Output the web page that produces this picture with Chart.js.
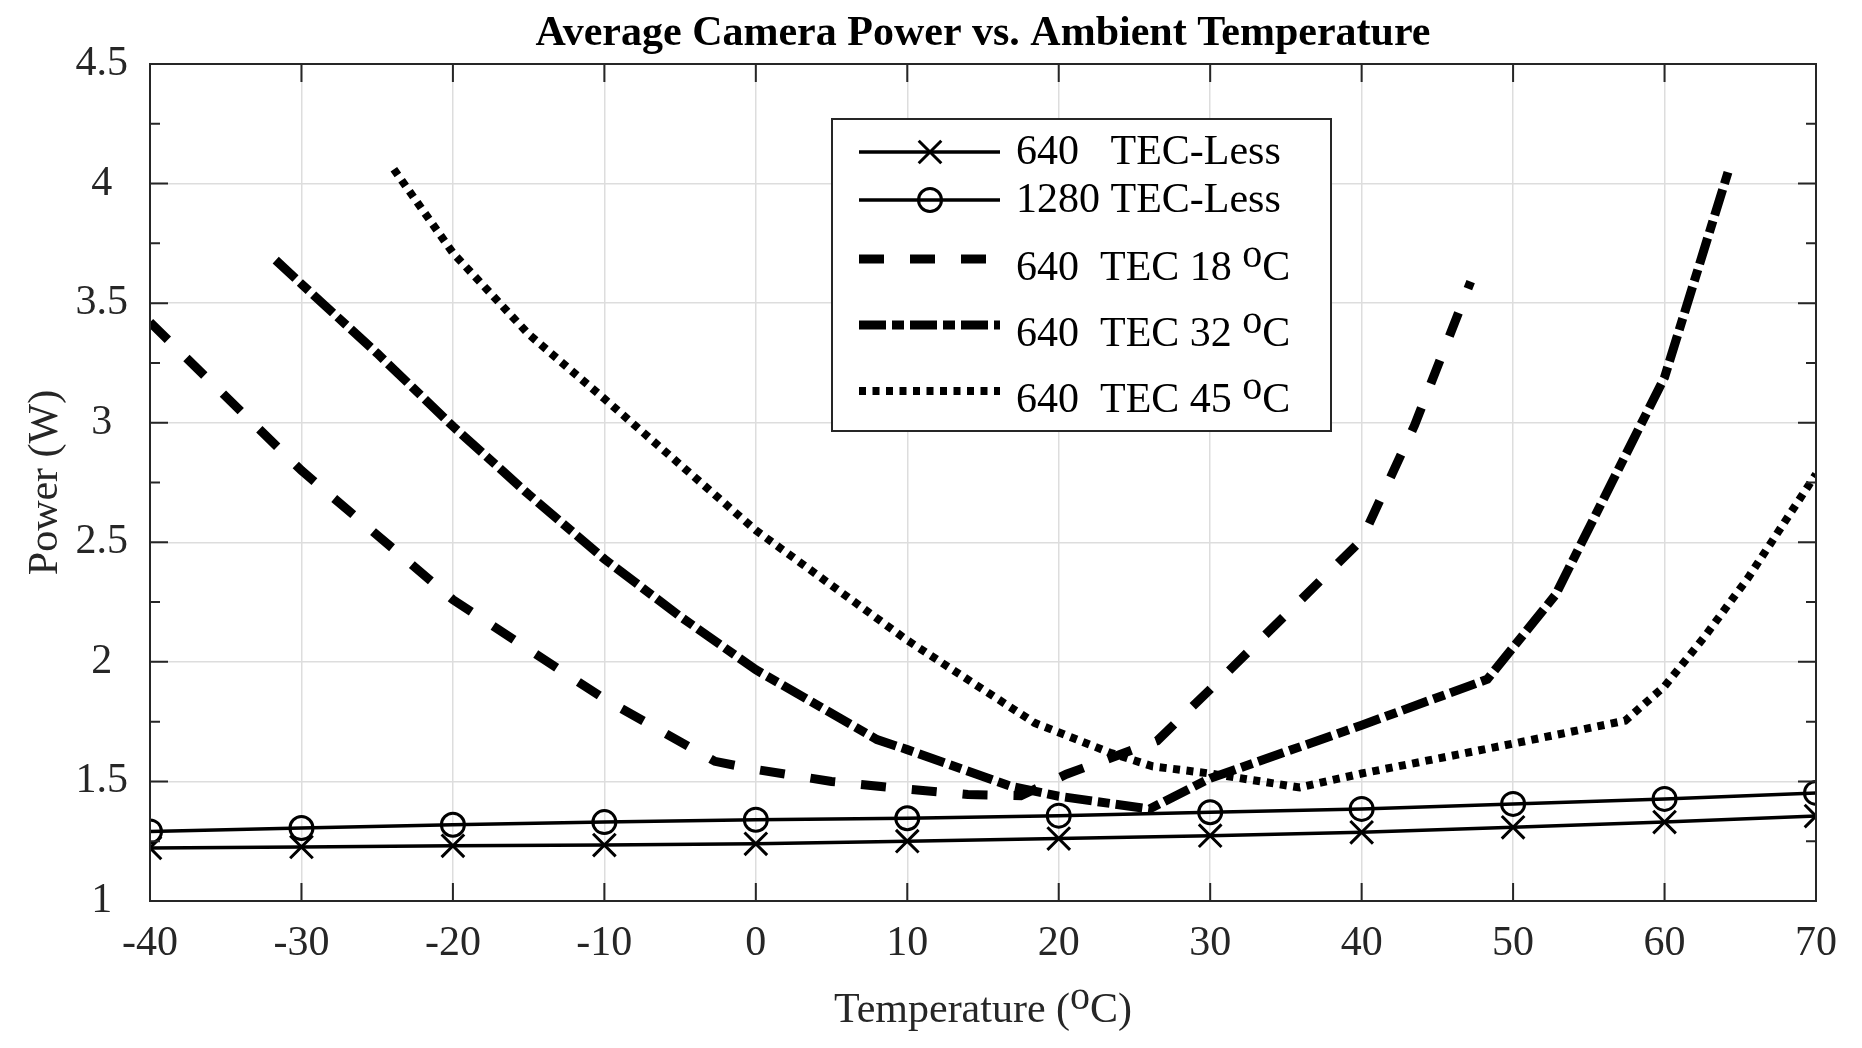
<!DOCTYPE html>
<html>
<head>
<meta charset="utf-8">
<title>Average Camera Power vs. Ambient Temperature</title>
<script src="https://cdn.jsdelivr.net/npm/chart.js@4.4.1/dist/chart.umd.min.js"></script>
<style>
  html, body { margin: 0; padding: 0; background: #fff; }
  canvas { display: block; }
</style>
</head>
<body>
<canvas id="powerChart" width="1862" height="1048"></canvas>
<script>
// TEC-less cameras, measured every 10 °C
const temps = [-40, -30, -20, -10, 0, 10, 20, 30, 40, 50, 60, 70];
const power640Less = [1.222, 1.226, 1.231, 1.234, 1.239, 1.250, 1.261, 1.273, 1.287, 1.308, 1.330, 1.355];
const power1280Less = [1.291, 1.305, 1.319, 1.330, 1.340, 1.346, 1.357, 1.371, 1.385, 1.406, 1.427, 1.452];

// TEC curves (at the bends)
const tec18Temps = [-40, -30, -20, -10, -2.7, 0, 5, 10, 14, 17.5, 20.5, 26.5, 30, 40, 43.5, 47.2];
const tec18Power = [3.42, 2.80, 2.26, 1.845, 1.584, 1.55, 1.50, 1.468, 1.445, 1.44, 1.53, 1.67, 1.885, 2.51, 2.99, 3.59];

const tec32Temps = [-31.7, -30, -25, -20, -15, -10, -5, 0, 8, 10, 16.8, 20, 26, 30, 40, 48.3, 52.8, 60, 64.3];
const tec32Power = [3.68, 3.58, 3.29, 2.985, 2.70, 2.43, 2.19, 1.967, 1.675, 1.633, 1.48, 1.438, 1.385, 1.513, 1.735, 1.927, 2.28, 3.19, 4.07];

const tec45Temps = [-23.9, -20, -15, -10, -5, 0, 10, 18.4, 23.4, 26.2, 30, 35.9, 40, 50, 57.4, 60, 62.7, 65.5, 70];
const tec45Power = [4.06, 3.71, 3.37, 3.10, 2.825, 2.55, 2.09, 1.745, 1.62, 1.563, 1.533, 1.475, 1.533, 1.658, 1.754, 1.898, 2.11, 2.35, 2.785];

const xTicks = [-40, -30, -20, -10, 0, 10, 20, 30, 40, 50, 60, 70];
const yTicks = [1, 1.5, 2, 2.5, 3, 3.5, 4, 4.5];
const seriesLabels = ['640   TEC-Less', '1280 TEC-Less', '640  TEC 18 °C', '640  TEC 32 °C', '640  TEC 45 °C'];

const FONT = '"Liberation Serif", "Times New Roman", serif';
const FS = 42;
const axisColor = '#262626';

function pts(xs, ys) {
    return xs.map((x, i) => ({ x: x, y: ys[i] }));
}

// draws text where '°' becomes a raised "o" (like the MATLAB ^o)
function drawSupText(ctx, text, x, y, size, align) {
    const parts = text.split('°');
    const mainFont = size + 'px ' + FONT;
    const supFont = Math.round(size * 0.95) + 'px ' + FONT;
    ctx.font = mainFont;
    let total = ctx.measureText(parts[0]).width;
    let supW = 0;
    if (parts.length > 1) {
        ctx.font = supFont;
        supW = ctx.measureText('o').width;
        ctx.font = mainFont;
        total += supW + ctx.measureText(parts[1]).width;
    }
    let cx = align === 'center' ? x - total / 2 : x;
    ctx.textAlign = 'left';
    ctx.textBaseline = 'alphabetic';
    ctx.font = mainFont;
    ctx.fillText(parts[0], cx, y);
    if (parts.length > 1) {
        cx += ctx.measureText(parts[0]).width;
        ctx.font = supFont;
        ctx.fillText('o', cx, y - Math.round(size * 0.32));
        cx += supW;
        ctx.font = mainFont;
        ctx.fillText(parts[1], cx, y);
    }
}

const framePlugin = {
    id: 'frame',
    afterDraw(chart) {
        const { ctx, chartArea: a, scales } = chart;
        const sx = scales.x, sy = scales.y;
        ctx.save();

        // box and inward ticks, MATLAB style
        ctx.strokeStyle = axisColor;
        ctx.lineWidth = 2;
        ctx.strokeRect(a.left, a.top, a.right - a.left, a.bottom - a.top);
        ctx.beginPath();
        xTicks.forEach(v => {
            const px = sx.getPixelForValue(v);
            ctx.moveTo(px, a.bottom); ctx.lineTo(px, a.bottom - 18);
            ctx.moveTo(px, a.top); ctx.lineTo(px, a.top + 18);
        });
        yTicks.forEach((v, i) => {
            const py = sy.getPixelForValue(v);
            ctx.moveTo(a.left, py); ctx.lineTo(a.left + 18, py);
            ctx.moveTo(a.right, py); ctx.lineTo(a.right - 18, py);
            if (i < yTicks.length - 1) {
                const pm = sy.getPixelForValue((v + yTicks[i + 1]) / 2);
                ctx.moveTo(a.left, pm); ctx.lineTo(a.left + 10, pm);
                ctx.moveTo(a.right, pm); ctx.lineTo(a.right - 10, pm);
            }
        });
        ctx.stroke();

        // titles
        ctx.fillStyle = '#000';
        ctx.font = 'bold ' + FS + 'px ' + FONT;
        ctx.textAlign = 'center';
        ctx.textBaseline = 'alphabetic';
        ctx.fillText('Average Camera Power vs. Ambient Temperature', (a.left + a.right) / 2, 45);

        ctx.fillStyle = axisColor;
        drawSupText(ctx, 'Temperature (°C)', (a.left + a.right) / 2, 1022, FS, 'center');

        ctx.save();
        ctx.translate(57, (a.top + a.bottom) / 2);
        ctx.rotate(-Math.PI / 2);
        ctx.font = FS + 'px ' + FONT;
        ctx.textAlign = 'center';
        ctx.fillText('Power (W)', 0, 0);
        ctx.restore();

        // legend
        const box = { left: 832, top: 119, right: 1331, bottom: 431 };
        const rowY = [152, 200, 259, 325, 391];
        ctx.fillStyle = '#fff';
        ctx.fillRect(box.left, box.top, box.right - box.left, box.bottom - box.top);
        ctx.strokeStyle = axisColor;
        ctx.lineWidth = 2;
        ctx.strokeRect(box.left, box.top, box.right - box.left, box.bottom - box.top);

        chart.data.datasets.forEach((ds, i) => {
            const y = rowY[i];
            ctx.save();
            ctx.strokeStyle = '#000';
            ctx.lineWidth = ds.borderWidth;
            ctx.lineCap = 'butt';
            ctx.setLineDash(ds.borderDash || []);
            ctx.beginPath();
            ctx.moveTo(859, y);
            ctx.lineTo(1000, y);
            ctx.stroke();
            ctx.setLineDash([]);
            if (ds.pointRadius > 0) {
                ctx.fillStyle = 'rgba(0,0,0,0)';
                ctx.lineWidth = ds.pointBorderWidth;
                Chart.helpers.drawPoint(ctx, {
                    pointStyle: ds.pointStyle, radius: ds.pointRadius,
                    borderWidth: ds.pointBorderWidth, rotation: 0
                }, 930, y);
            }
            ctx.restore();
            ctx.fillStyle = '#000';
            const hasSup = ds.label.indexOf('°') >= 0;
            drawSupText(ctx, ds.label, 1016, y + (hasSup ? 21 : 12), FS, 'left');
        });

        ctx.restore();
    }
};

const ctx = document.getElementById('powerChart').getContext('2d');

new Chart(ctx, {
    type: 'line',
    data: {
        datasets: [
            {
                label: seriesLabels[0],
                data: pts(temps, power640Less),
                borderColor: '#000', borderWidth: 3.5,
                pointStyle: 'crossRot', pointRadius: 16, pointBorderWidth: 3,
                pointBorderColor: '#000', pointBackgroundColor: 'rgba(0,0,0,0)'
            },
            {
                label: seriesLabels[1],
                data: pts(temps, power1280Less),
                borderColor: '#000', borderWidth: 3.5,
                pointStyle: 'circle', pointRadius: 11.5, pointBorderWidth: 3,
                pointBorderColor: '#000', pointBackgroundColor: 'rgba(0,0,0,0)'
            },
            {
                label: seriesLabels[2],
                data: pts(tec18Temps, tec18Power),
                borderColor: '#000', borderWidth: 9, borderDash: [25, 26],
                borderCapStyle: 'butt', pointRadius: 0
            },
            {
                label: seriesLabels[3],
                data: pts(tec32Temps, tec32Power),
                borderColor: '#000', borderWidth: 9, borderDash: [27, 6, 12, 6],
                borderCapStyle: 'butt', pointRadius: 0
            },
            {
                label: seriesLabels[4],
                data: pts(tec45Temps, tec45Power),
                borderColor: '#000', borderWidth: 8, borderDash: [7, 6.5],
                borderCapStyle: 'butt', pointRadius: 0
            }
        ]
    },
    options: {
        responsive: false,
        animation: false,
        layout: { padding: { top: 64, right: 46, bottom: 0, left: 0 } },
        elements: { line: { tension: 0, borderJoinStyle: 'miter' } },
        plugins: {
            legend: { display: false },
            title: { display: false },
            tooltip: { enabled: false }
        },
        scales: {
            x: {
                type: 'linear',
                min: -40,
                max: 70,
                afterBuildTicks: s => { s.ticks = xTicks.map(v => ({ value: v })); },
                afterFit: s => { s.height = 147; },
                ticks: { color: axisColor, padding: 18, font: { family: FONT, size: FS } },
                grid: { color: '#dddddd', lineWidth: 1.5, drawTicks: false },
                border: { display: false }
            },
            y: {
                min: 1,
                max: 4.5,
                afterBuildTicks: s => { s.ticks = yTicks.map(v => ({ value: v })); },
                afterFit: s => { s.width = 150; },
                ticks: {
                    color: axisColor, padding: 22, crossAlign: 'center',
                    font: { family: FONT, size: FS },
                    callback: v => String(v)
                },
                grid: { color: '#dddddd', lineWidth: 1.5, drawTicks: false },
                border: { display: false }
            }
        }
    },
    plugins: [framePlugin]
});
</script>
</body>
</html>
